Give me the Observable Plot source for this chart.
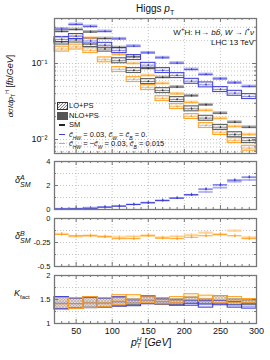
<!DOCTYPE html>
<html><head><meta charset="utf-8">
<script src="https://cdn.jsdelivr.net/npm/d3@7"></script>
<script src="https://cdn.jsdelivr.net/npm/@observablehq/plot@0.6"></script>
<style>
body{margin:0;background:#fff;font-family:"Liberation Sans",Arial,sans-serif;color:#111;}
#wrap{position:relative;width:270px;height:360px;overflow:hidden;}
#wrap svg{overflow:visible;}
.abs{position:absolute;white-space:nowrap;}
.stk{display:inline-block;vertical-align:middle;line-height:7px;font-size:7px;font-style:italic;}
sub,sup{line-height:0;}
</style></head><body>
<svg width="0" height="0" style="position:absolute">
<defs>
<pattern id="hatch" patternUnits="userSpaceOnUse" width="3" height="3" patternTransform="rotate(45)"><rect width="3" height="3" fill="#f6f6f6"/><line x1="0" y1="0" x2="0" y2="3" stroke="#a5a5a5" stroke-width="0.6"/></pattern>
<pattern id="xhatch" patternUnits="userSpaceOnUse" width="3" height="3"><rect width="3" height="3" fill="#eee"/><path d="M0,0L3,3M3,0L0,3" stroke="#999" stroke-width="0.5"/></pattern>
</defs></svg>
<div id="wrap"></div>
<script>
// ---- data ----
const binLo = [20,40,60,80,100,120,140,160,180,200,220,240,260,280];
const binHi = [40,60,80,100,120,140,160,180,200,220,240,260,280,300];
// dsigma/dpT [fb/GeV]
const smNLO = [0.264,0.280,0.260,0.213,0.162,0.124,0.086,0.0655,0.049,0.0376,0.0286,0.0222,0.0169,0.0145];
const smLO  = [0.192,0.204,0.178,0.155,0.109,0.0809,0.058,0.0441,0.0336,0.0254,0.0191,0.0145,0.0116,0.0097];
const aNLO  = [0.284,0.326,0.307,0.264,0.211,0.169,0.138,0.119,0.101,0.0834,0.0716,0.0629,0.0557,0.0498];
const aLO   = [0.207,0.227,0.198,0.174,0.148,0.120,0.095,0.0809,0.0695,0.0585,0.0525,0.0455,0.0407,0.0368];
const bNLO  = [0.220,0.233,0.215,0.172,0.131,0.100,0.0695,0.0546,0.0399,0.0307,0.0241,0.0189,0.0148,0.0116];
const bLO   = [0.155,0.165,0.148,0.112,0.0834,0.0616,0.0483,0.0346,0.0272,0.0201,0.0153,0.0124,0.0097,0.0077];
const nloUnc = 0.045, loUnc = 0.075, statUnc = 0.03;
// delta^A_SM, delta^B_SM
const dA_NLO = [0.05,0.06,0.10,0.20,0.28,0.42,0.56,0.76,0.95,1.23,1.70,2.05,2.45,2.70];
const dA_LO  = [0.04,0.05,0.13,0.18,0.27,0.40,0.55,0.72,0.93,1.20,1.45,1.80,2.30,2.45];
const dB_NLO = [-0.165,-0.18,-0.18,-0.19,-0.21,-0.21,-0.18,-0.205,-0.21,-0.195,-0.18,-0.165,-0.18,-0.21];
const dB_LO  = [-0.165,-0.19,-0.18,-0.19,-0.195,-0.19,-0.18,-0.20,-0.19,-0.175,-0.15,-0.17,-0.13,-0.20];
// K-factor bands [low, high]
const kSM = [[1.29,1.54],[1.31,1.52],[1.33,1.55],[1.34,1.52],[1.36,1.54],[1.38,1.50],[1.41,1.57],[1.39,1.52],[1.38,1.50],[1.41,1.54],[1.40,1.50],[1.40,1.57],[1.38,1.50],[1.39,1.48]];
const kA  = [[1.30,1.55],[1.31,1.52],[1.32,1.53],[1.33,1.52],[1.35,1.55],[1.36,1.48],[1.40,1.55],[1.40,1.50],[1.37,1.48],[1.37,1.48],[1.33,1.47],[1.38,1.47],[1.33,1.45],[1.31,1.41]];
const kB  = [[1.28,1.53],[1.30,1.53],[1.32,1.55],[1.34,1.53],[1.38,1.59],[1.41,1.59],[1.42,1.56],[1.40,1.53],[1.42,1.55],[1.49,1.61],[1.45,1.58],[1.42,1.57],[1.42,1.55],[1.42,1.51]];
const xTicks = [50,100,150,200,250,300];

// ---- layout ----
const W = 270, ML = 54, MR = 14, FW = W - ML - MR;
const wrap = document.getElementById("wrap");
const C = {
  blue:"#3b3bd8", blueL:"#8f8ff0", blueLL:"#c4c4f6",
  orange:"#ffa01e", orangeL:"#ffc46e", orangeLL:"#ffe0b0",
  sm:"#333", smL:"#a0a0a0", frame:"#777", grid:"#c4c4c4"
};
const rows = binLo.map((lo,i)=>({lo, hi:binHi[i], mid:(lo+binHi[i])/2,
  sm:smNLO[i], smL:smLO[i], a:aNLO[i], aL:aLO[i], b:bNLO[i], bL:bLO[i],
  dAN:dA_NLO[i], dAL:dA_LO[i], dBN:dB_NLO[i], dBL:dB_LO[i],
  kS:kSM[i], kA:kA[i], kB:kB[i]}));

function place(el, top){ el.style.position="absolute"; el.style.left="0px"; el.style.top=top+"px"; wrap.appendChild(el); }
function html(s, css){ const d=document.createElement("div"); d.className="abs"; d.innerHTML=s; d.style.cssText+=css; wrap.appendChild(d); return d; }

function ticks(xMin, yMaj, yMin, fh){
  const s = {stroke:C.frame, strokeWidth:1};
  return [
    Plot.tickX(xTicks, {x:d=>d, insetTop:fh-4, ...s}),
    Plot.tickX(xTicks, {x:d=>d, insetBottom:fh-4, ...s}),
    Plot.tickX(xMin, {x:d=>d, insetTop:fh-2, ...s}),
    Plot.tickX(xMin, {x:d=>d, insetBottom:fh-2, ...s}),
    Plot.tickY(yMaj, {y:d=>d, insetRight:FW-4, ...s}),
    Plot.tickY(yMaj, {y:d=>d, insetLeft:FW-4, ...s}),
    Plot.tickY(yMin, {y:d=>d, insetRight:FW-2, ...s}),
    Plot.tickY(yMin, {y:d=>d, insetLeft:FW-2, ...s})
  ];
}
const xMinor = d3.range(30,300,10).filter(v=>v%50);
const gridX = Plot.ruleX([50,100,150,200,250], {stroke:C.grid, strokeDasharray:"1,2"});
const fmt = d => String(+d.toFixed(2));

// ---- main panel ----
function nloBand(v, fill, op){ return Plot.rect(rows, {x1:"lo", x2:"hi", y1:d=>d[v]*(1-nloUnc), y2:d=>d[v]*(1+nloUnc), fill, fillOpacity:op}); }
function loBox(v, stroke){ return Plot.rect(rows, {x1:"lo", x2:"hi", y1:d=>d[v]*(1-loUnc), y2:d=>d[v]*(1+loUnc), fill:"url(#hatch)", stroke, strokeWidth:1}); }
function cline(v, stroke, sw){ return [
  Plot.ruleY(rows, {y:v, x1:"lo", x2:"hi", stroke, strokeWidth:sw}),
  Plot.ruleX(rows, {x:"mid", y1:d=>d[v]*(1-statUnc), y2:d=>d[v]*(1+statUnc), stroke, strokeWidth:0.8}),
  Plot.dot(rows, {x:"mid", y:v, r:0.8, fill:stroke})
]; }
const mainMinor = [0.007,0.008,0.009,0.02,0.03,0.04,0.05,0.06,0.07,0.08,0.09,0.2,0.3];
const main = Plot.plot({
  width:W, height:155, marginLeft:ML, marginRight:MR, marginTop:18, marginBottom:2,
  x:{domain:[20,300], axis:null},
  y:{type:"log", domain:[0.00655,0.391], axis:null},
  style:{fontFamily:"Liberation Sans, Arial, sans-serif", background:"transparent", overflow:"visible"},
  marks:[
    gridX,
    Plot.ruleY([0.01,0.1,...mainMinor], {stroke:C.grid, strokeDasharray:"1,2"}),
    nloBand("b", C.orangeL, 0.7),
    nloBand("sm", C.smL, 0.75),
    nloBand("a", C.blueL, 0.7),
    loBox("bL", C.orange),
    loBox("smL", "#555"),
    loBox("aL", C.blue),
    ...cline("b", C.orange, 0.7),
    ...cline("sm", "#333", 0.7),
    ...cline("a", C.blue, 0.7),
    ...cline("bL", C.orange, 0.5),
    ...cline("smL", "#333", 0.5),
    ...cline("aL", C.blue, 0.5),
    ...ticks(xMinor, [0.01,0.1], mainMinor, 135),
    Plot.frame({stroke:C.frame, strokeWidth:1.3}),
    Plot.axisY({ticks:[0.01,0.1], tickFormat:d=> d>0.05 ? "10⁻¹" : "10⁻²", tickSize:0, tickPadding:7, fontSize:9})
  ]
});
place(main, 0);

// ---- delta A ----
const pA = Plot.plot({
  width:W, height:56, marginLeft:ML, marginRight:MR, marginTop:6, marginBottom:2,
  x:{domain:[20,300], axis:null}, y:{domain:[0,4], axis:null},
  style:{fontFamily:"Liberation Sans, Arial, sans-serif", background:"transparent", overflow:"visible"},
  marks:[
    gridX,
    Plot.ruleY([1,2,3], {stroke:C.grid, strokeDasharray:"1,2"}),
    Plot.rect(rows, {x1:"lo", x2:"hi", y1:d=>d.dAL-0.07, y2:d=>d.dAL+0.07, fill:C.blueLL, fillOpacity:0.9}),
    Plot.ruleY(rows, {y:"dAL", x1:"lo", x2:"hi", stroke:C.blueL, strokeWidth:0.8}),
    Plot.ruleX(rows, {x:"mid", y1:d=>d.dAL-0.1, y2:d=>d.dAL+0.1, stroke:C.blueL, strokeWidth:0.8}),
    Plot.ruleY(rows, {y:"dAN", x1:"lo", x2:"hi", stroke:C.blue, strokeWidth:1}),
    Plot.ruleX(rows, {x:"mid", y1:d=>d.dAN-0.12, y2:d=>d.dAN+0.12, stroke:C.blue, strokeWidth:0.8}),
    Plot.dot(rows, {x:"mid", y:"dAN", r:0.9, fill:C.blue}),
    ...ticks(xMinor, [0,2,4], [1,3], 48),
    Plot.frame({stroke:C.frame, strokeWidth:1.3}),
    Plot.axisY({ticks:[0,2,4], tickFormat:fmt, tickSize:0, tickPadding:4, fontSize:7.5})
  ]
});
place(pA, 155);

// ---- delta B ----
const pB = Plot.plot({
  width:W, height:57, marginLeft:ML, marginRight:MR, marginTop:7, marginBottom:2,
  x:{domain:[20,300], axis:null}, y:{domain:[-0.5,0], axis:null},
  style:{fontFamily:"Liberation Sans, Arial, sans-serif", background:"transparent", overflow:"visible"},
  marks:[
    gridX,
    Plot.ruleY([-0.125,-0.25,-0.375], {stroke:C.grid, strokeDasharray:"1,2"}),
    Plot.rect(rows, {x1:"lo", x2:"hi", y1:d=>d.dBL-0.012, y2:d=>d.dBL+0.012, fill:C.orangeLL, fillOpacity:0.9}),
    Plot.ruleY(rows, {y:"dBL", x1:"lo", x2:"hi", stroke:C.orangeL, strokeWidth:0.8}),
    Plot.ruleX(rows, {x:"mid", y1:d=>d.dBL-0.015, y2:d=>d.dBL+0.015, stroke:C.orangeL, strokeWidth:0.8}),
    Plot.ruleY(rows, {y:"dBN", x1:"lo", x2:"hi", stroke:C.orange, strokeWidth:1}),
    Plot.ruleX(rows, {x:"mid", y1:d=>d.dBN-0.018, y2:d=>d.dBN+0.018, stroke:C.orange, strokeWidth:0.8}),
    Plot.dot(rows, {x:"mid", y:"dBN", r:0.9, fill:C.orange}),
    ...ticks(xMinor, [0,-0.25,-0.5], [-0.125,-0.375], 48),
    Plot.frame({stroke:C.frame, strokeWidth:1.3}),
    Plot.axisY({ticks:[0,-0.25,-0.5], tickFormat:fmt, tickSize:0, tickPadding:4, fontSize:7.5})
  ]
});
place(pB, 211);

// ---- K factor ----
function kBox(k, fill, stroke, op){ return [
  Plot.rect(rows, {x1:"lo", x2:"hi", y1:d=>d[k][0], y2:d=>d[k][1], fill, fillOpacity:op, stroke, strokeWidth:1}),
  Plot.ruleY(rows, {y:d=>(d[k][0]+d[k][1])/2, x1:"lo", x2:"hi", stroke, strokeWidth:0.6, strokeOpacity:0.8})
]; }
const pK = Plot.plot({
  width:W, height:92, marginLeft:ML, marginRight:MR, marginTop:7, marginBottom:37,
  x:{domain:[20,300], axis:null}, y:{domain:[1,2], axis:null},
  style:{fontFamily:"Liberation Sans, Arial, sans-serif", background:"transparent", overflow:"visible"},
  marks:[
    gridX,
    Plot.ruleY([1.25,1.5,1.75], {stroke:C.grid, strokeDasharray:"1,2"}),
    ...kBox("kS", "url(#xhatch)", "#555", 1),
    ...kBox("kA", C.blueL, C.blue, 0.2),
    ...kBox("kB", C.orangeL, C.orange, 0.2),
    ...ticks(xMinor, [1,1.5,2], [1.25,1.75], 48),
    Plot.frame({stroke:C.frame, strokeWidth:1.3}),
    Plot.axisY({ticks:[1,1.5,2], tickFormat:fmt, tickSize:0, tickPadding:4, fontSize:7.5}),
    Plot.axisX({ticks:xTicks, tickSize:0, tickPadding:4, fontSize:9})
  ]
});
place(pK, 268);

// ---- texts ----
html('Higgs <i>p</i><sub style="font-size:7px">T</sub>', 'left:136px;top:3px;font-size:10px;line-height:12px;');
html('W<sup style="font-size:6px">+</sup>H: H&#8202;&rarr; <i>b</i><i>b&#772;</i>, <i>W</i> &rarr; <i>l</i><sup style="font-size:6px">+</sup><i>&nu;</i>', 'right:16px;top:28px;font-size:8px;line-height:10px;');
html('LHC 13 TeV', 'right:16px;top:38px;font-size:8px;line-height:10px;');
html('<span style="font-size:8px"><i>dσ</i>/<i>dp</i><sub style="font-size:5px">T</sub><sup style="font-size:5px">H</sup></span> [<i>fb</i>/<i>GeV</i>]', 'left:10px;top:86px;font-size:9px;line-height:10px;transform:translate(-50%,-50%) rotate(-90deg);');
html('<i>δ</i><span class="stk"><i>A</i><br><i>SM</i></span>', 'left:15px;top:174px;font-size:9px;line-height:12px;');
html('<i>δ</i><span class="stk"><i>B</i><br><i>SM</i></span>', 'left:15px;top:230px;font-size:9px;line-height:12px;');
html('<i>K</i><sub style="font-size:6px">fact</sub>', 'left:14px;top:288px;font-size:9px;line-height:10px;');
html('<i>p</i><span class="stk" style="font-size:6.5px;line-height:6px"><i>H</i><br><i>T</i></span> [<i>GeV</i>]', 'left:131px;top:336px;font-size:10.5px;line-height:12px;');

// legend
const cT = s => '<i>c&#771;</i><sub style="font-size:5px"><i>'+s+'</i></sub>';
const lg = [
  {y:106, sym:'<span style="display:inline-block;width:9px;height:6px;border:1px solid #333;background:repeating-linear-gradient(135deg,#f2f2f2 0 1.2px,#888 1.2px 2px);"></span>', t:'LO+PS'},
  {y:115.5, sym:'<span style="display:inline-block;width:9px;height:6px;border:1px solid #555;background:#555;"></span>', t:'NLO+PS'},
  {y:125, sym:'<span style="display:inline-block;width:6px;height:1.2px;margin:0 2px;background:#222;"></span>', t:'SM'},
  {y:134.5, sym:'<span style="display:inline-block;width:6px;height:1.5px;margin:0 2px;background:'+C.blue+';"></span>', t:cT('HW')+' = 0.03, '+cT('W')+' = '+cT('B')+' = 0.'},
  {y:143.5, sym:'<span style="display:inline-block;width:6px;height:1.5px;margin:0 2px;background:'+C.orange+';"></span>', t:cT('HW')+' = −'+cT('W')+' = 0.03, '+cT('B')+' = 0.015'}
];
lg.forEach(d=>{
  html(d.sym, 'left:57px;top:'+(d.y-4)+'px;line-height:8px;height:8px;display:flex;align-items:center;');
  html(d.t, 'left:69px;top:'+(d.y-4)+'px;font-size:7.5px;line-height:8px;height:8px;');
});
</script></body></html>
